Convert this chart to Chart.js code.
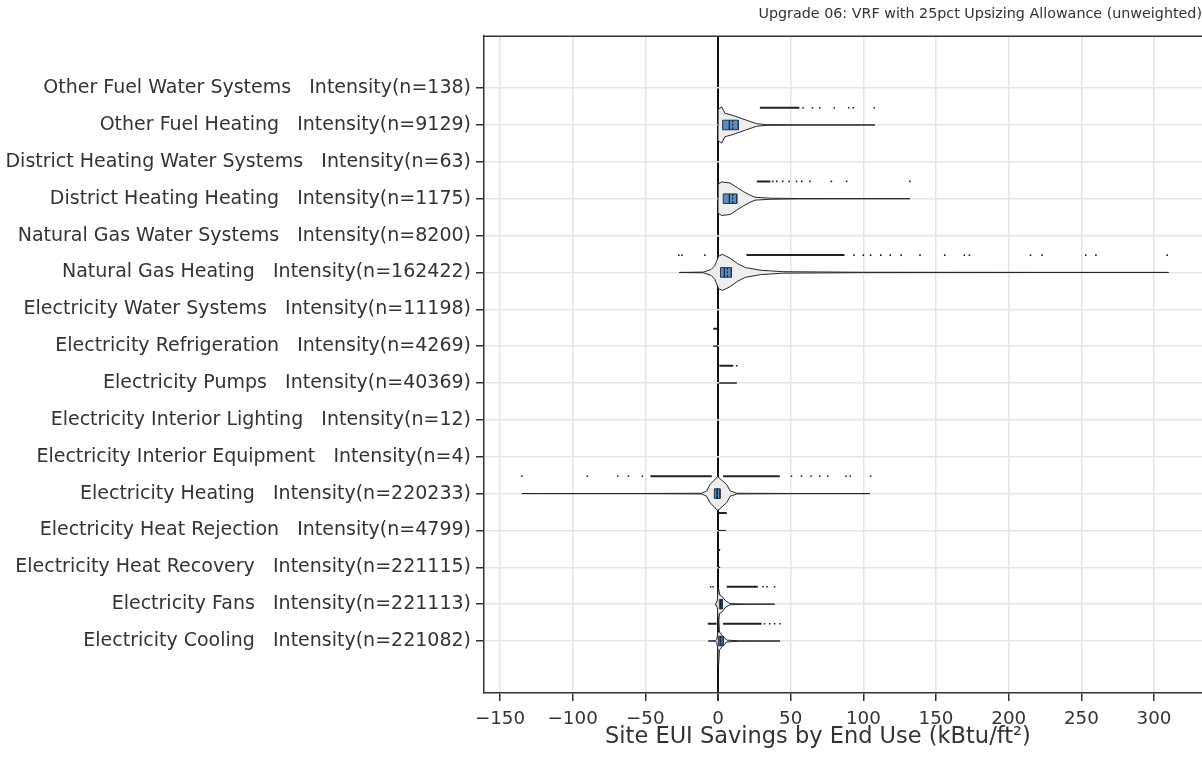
<!DOCTYPE html>
<html><head><meta charset="utf-8">
<script src="https://cdn.jsdelivr.net/npm/chart.js@4.4.1/dist/chart.umd.min.js"></script>
<style>html,body{margin:0;padding:0;background:#fff;}</style>
</head><body>
<canvas id="c" width="1202" height="774" style="width:1202px;height:774px;display:block"></canvas>
<script>
// ---------- DATA ----------
const chartTitle = 'Upgrade 06: VRF with 25pct Upsizing Allowance (unweighted)';
const xAxisTitle = 'Site EUI Savings by End Use (kBtu/ft\u00B2)';
const categories = [
  'Other Fuel Water Systems   Intensity(n=138)',
  'Other Fuel Heating   Intensity(n=9129)',
  'District Heating Water Systems   Intensity(n=63)',
  'District Heating Heating   Intensity(n=1175)',
  'Natural Gas Water Systems   Intensity(n=8200)',
  'Natural Gas Heating   Intensity(n=162422)',
  'Electricity Water Systems   Intensity(n=11198)',
  'Electricity Refrigeration   Intensity(n=4269)',
  'Electricity Pumps   Intensity(n=40369)',
  'Electricity Interior Lighting   Intensity(n=12)',
  'Electricity Interior Equipment   Intensity(n=4)',
  'Electricity Heating   Intensity(n=220233)',
  'Electricity Heat Rejection   Intensity(n=4799)',
  'Electricity Heat Recovery   Intensity(n=221115)',
  'Electricity Fans   Intensity(n=221113)',
  'Electricity Cooling   Intensity(n=221082)'
];
const xTickValues = [-150, -100, -50, 0, 50, 100, 150, 200, 250, 300];

// violin density profiles: [savings value, relative density]
const violinOtherFuelHeating = [[0,0],[0.1,0.87],[2.5,1],[4.8,0.65],[10.5,0.52],[19.7,0.26],[26.6,0.07],[33.5,0.02],[60,0.005],[108,0]];
const violinDistrictHeating = [[0,0],[0.1,0.8],[2.5,0.93],[8.3,0.87],[12.9,0.63],[17.4,0.4],[22,0.2],[25.5,0.08],[35.8,0.03],[60,0.005],[132,0]];
const violinNaturalGasHeating = [[-26.7,0],[-10,0.02],[-4.8,0.16],[-2.2,0.37],[0.4,0.9],[3.1,1],[8.3,0.79],[13.6,0.48],[18.9,0.27],[29.4,0.12],[45.2,0.04],[100,0.01],[310,0]];
const violinElecRefrigeration = [[-3.2,0],[0,0]];
const violinElecPumps = [[0.9,0],[12.9,0]];
const violinElecHeating = [[-135,0],[-50,0.005],[-11.2,0.02],[-7.8,0.15],[-5.5,0.5],[-0.2,0.94],[6,0.5],[8.3,0.15],[12.9,0.02],[50,0.005],[104.6,0]];
const violinElecHeatRejection = [[0,0],[5.5,0]];
const violinElecHeatRecovery = [[0,0],[1.5,0]];
const violinElecFans = [[-2,0],[-1.4,0.03],[-0.5,0.2],[0.3,0.93],[1.2,0.5],[2.5,0.45],[5.5,0.16],[8.3,0.03],[20,0.005],[39,0]];
const violinElecCooling = [[-6.7,0],[-2,0.02],[-0.9,0.08],[0,0.5],[0.4,1.36],[1,0.5],[3,0.3],[6,0.05],[15,0.01],[42.7,0]];

const violinRows = [1, 3, 5, 7, 8, 11, 12, 13, 14, 15];
const violinProfiles = [violinOtherFuelHeating, violinDistrictHeating, violinNaturalGasHeating, violinElecRefrigeration,
  violinElecPumps, violinElecHeating, violinElecHeatRejection, violinElecHeatRecovery, violinElecFans, violinElecCooling];

// inner box plots
const boxRows   = [1, 3, 5, 11, 14, 15];
const boxQ1     = [3.2, 3.6, 1.7, -2.5, 0.9, 0.2];
const boxQ3     = [14, 12.9, 9.2, 1.4, 3.0, 3.6];
const boxMedian = [7.8, 7.8, 4.4, -0.7, 1.8, 1.5];
const boxMean   = [10.1, 10.1, 6.5, -0.4, 2.2, 2.0];

// outliers: sparse points and dense runs
const outlierRows = [1, 3, 5, 7, 8, 11, 12, 13, 14, 15];
const outlierPoints = [
  [58.5, 65, 70, 80, 90, 93, 107.5],
  [37.6, 40.4, 44.5, 49, 54, 57.6, 63.3, 78, 88.5, 132],
  [-27, -24.8, -9, 93.5, 100, 105, 112, 118.5, 126, 139, 156, 169.5, 173, 215, 223, 253, 260, 309],
  [],
  [12.9],
  [-135, -90, -69, -61.6, -52, 50.5, 57.5, 64, 70, 75.5, 88, 91, 105],
  [],
  [],
  [-5, -3.4, 31, 33.6, 39],
  [32, 35.6, 39, 42.5]
];
const outlierRuns = [
  [[28.8, 56]],
  [[26.7, 36]],
  [[19.6, 87]],
  [[-3.2, -0.5]],
  [[0.9, 10.5]],
  [[-46.5, -4.3], [3.5, 42.5]],
  [[0.5, 6]],
  [[0.3, 1.5]],
  [[6, 27.4]],
  [[-7, -1], [3.5, 30]]
];

// ---------- STYLE ----------
const FONT = 'DejaVu Sans';
const TEXT = '#333';
const VIOLIN_HALF = 0.49;
const BOX_HALF = 0.13;
const PT_OFFSET = 0.47;

const datasets = [];
violinRows.forEach((row, i) => {
  const prof = violinProfiles[i];
  const top = prof.map(([v, d]) => ({x: v, y: row - d * VIOLIN_HALF}));
  const bot = prof.slice().reverse().map(([v, d]) => ({x: v, y: row + d * VIOLIN_HALF}));
  datasets.push({data: top.concat(bot, [top[0]]), showLine: true, fill: 'shape', order: 3,
    backgroundColor: '#eeeeee', borderColor: '#262626', borderWidth: 1, pointRadius: 0, tension: 0});
});
boxRows.forEach((row, i) => {
  const a = boxQ1[i], b = boxQ3[i];
  datasets.push({data: [{x:a,y:row-BOX_HALF},{x:b,y:row-BOX_HALF},{x:b,y:row+BOX_HALF},{x:a,y:row+BOX_HALF},{x:a,y:row-BOX_HALF}],
    showLine: true, fill: 'shape', order: 2, backgroundColor: '#5b8cc2', borderColor: '#1e3552', borderWidth: 1, pointRadius: 0});
  datasets.push({data: [{x:boxMedian[i],y:row-BOX_HALF},{x:boxMedian[i],y:row+BOX_HALF}], showLine: true, order: 1,
    borderColor: '#14202e', borderWidth: 1.2, pointRadius: 0});
  datasets.push({data: [{x:boxMean[i],y:row-BOX_HALF},{x:boxMean[i],y:row+BOX_HALF}], showLine: true, order: 1,
    borderColor: '#14202e', borderWidth: 1.2, borderDash: [2, 1.5], pointRadius: 0});
});
outlierRows.forEach((row, i) => {
  const y = row - PT_OFFSET;
  if (outlierPoints[i].length) {
    datasets.push({data: outlierPoints[i].map(v => ({x: v, y})), showLine: false, order: 0,
      pointStyle: 'rect', pointRadius: 1.1, pointBackgroundColor: '#222', pointBorderWidth: 0});
  }
  outlierRuns[i].forEach(([a, b]) => {
    datasets.push({data: [{x: a, y}, {x: b, y}], showLine: true, order: 0, borderColor: '#222', borderWidth: 2, pointRadius: 0});
  });
});

const frameTop = {
  id: 'frameTop',
  afterDraw(chart) {
    const {ctx, chartArea: ca} = chart;
    ctx.save();
    ctx.strokeStyle = '#333'; ctx.lineWidth = 1.5;
    ctx.beginPath(); ctx.moveTo(ca.left, ca.top); ctx.lineTo(ca.right, ca.top); ctx.stroke();
    ctx.restore();
  }
};

new Chart(document.getElementById('c'), {
  type: 'scatter',
  data: {datasets},
  plugins: [frameTop],
  options: {
    responsive: false, animation: false, devicePixelRatio: 1,
    layout: {padding: 0, autoPadding: false},
    plugins: {
      legend: {display: false}, tooltip: {enabled: false},
      title: {display: true, text: chartTitle, align: 'end', color: TEXT,
        font: {family: FONT, size: 14.3, weight: 'normal'}, padding: {top: 6, bottom: 13}}
    },
    scales: {
      x: {
        type: 'linear', min: -161, max: 333,
        afterBuildTicks: ax => { ax.ticks = xTickValues.map(v => ({value: v})); },
        afterFit: ax => { ax.height = 81; ax.paddingLeft = 0; ax.paddingRight = 0; },
        ticks: {color: TEXT, font: {family: FONT, size: 18.3}, padding: 7, autoSkip: false, maxRotation: 0,
          callback: v => (v < 0 ? '\u2212' + Math.abs(v) : String(v))},
        grid: {color: c => (c.tick && c.tick.value === 0 ? '#111' : '#e6e6e6'),
               lineWidth: c => (c.tick && c.tick.value === 0 ? 2 : 1.5),
               tickColor: '#333', tickLength: 8, drawTicks: true},
        border: {display: true, color: '#333', width: 1.5},
        title: {display: true, text: xAxisTitle + '       ', color: TEXT, font: {family: FONT, size: 22.5}, padding: {top: 0, bottom: 23}}
      },
      y: {
        type: 'linear', reverse: true, min: -1.41, max: 16.41,
        afterBuildTicks: ax => { ax.ticks = categories.map((_, i) => ({value: i})); },
        afterFit: ax => { ax.width = 484; ax.paddingTop = 0; ax.paddingBottom = 0; },
        ticks: {color: TEXT, font: {family: FONT, size: 19}, padding: 5, autoSkip: false,
          callback: v => categories[v]},
        grid: {color: '#e6e6e6', lineWidth: 1.5, tickColor: '#333', tickLength: 8},
        border: {display: true, color: '#333', width: 1.5}
      }
    }
  }
});
</script>
</body></html>
